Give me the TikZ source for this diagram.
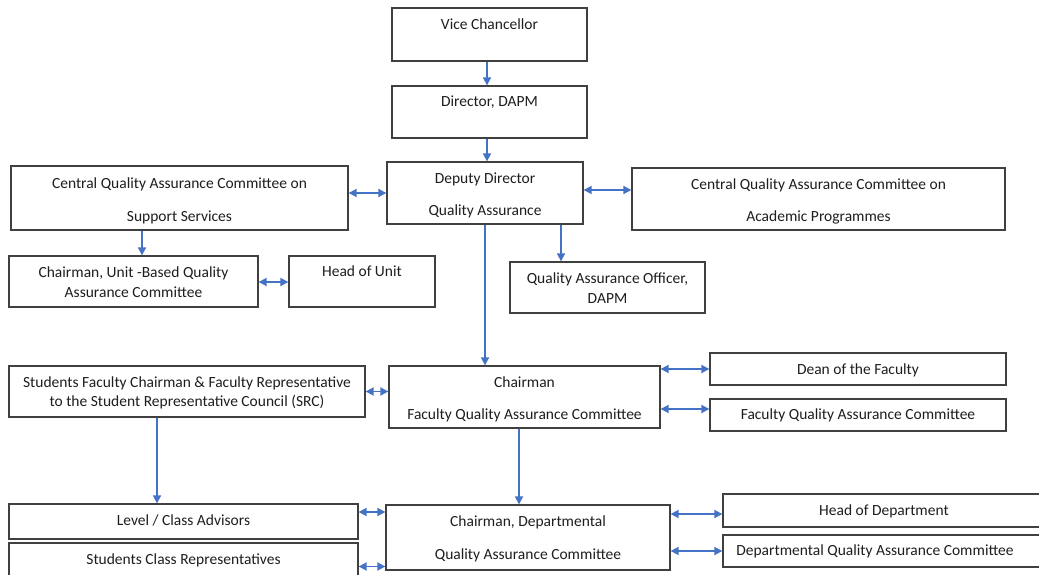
\documentclass[tikz,border=0pt]{standalone}
\usepackage{fontspec}
\setmainfont{Carlito}
\usetikzlibrary{arrows.meta,calc}
\definecolor{boxgray}{RGB}{64,64,64}
\definecolor{arrowblue}{RGB}{68,114,196}
\definecolor{txt}{RGB}{30,30,30}
\newcommand\obox[8]{%
  \node[box] (#1) at ({(#2+#4)/2},{(#3+#5)/2})
  {\parbox[c][\dimexpr#5pt-#3pt\relax][t]{\dimexpr#4pt-#2pt\relax}{\centering\fontsize{15.5pt}{#7pt}\selectfont\rule{0pt}{#6pt}#8\par}};}
\tikzset{
  box/.style={draw=boxgray, line width=1.3pt, inner sep=0pt, text=txt, fill=white},
  arr/.style={draw=arrowblue, line width=1.7pt, -{Triangle[length=8pt,width=8pt]}},
  darr/.style={draw=arrowblue, line width=1.7pt, {Triangle[length=8pt,width=8pt]}-{Triangle[length=8pt,width=8pt]}}
}
\begin{document}
\begin{tikzpicture}[x=1pt,y=-1pt]
\useasboundingbox (0,0) rectangle (1039,575);
\clip (0,0) rectangle (1039,575);
\fill[white] (0,0) rectangle (1039,575);
\obox{vc}{392}{8}{587}{61}{22}{20}{Vice Chancellor}
\obox{dir}{392}{86}{587}{138}{21}{20}{Director, DAPM}
\obox{dep}{387}{162}{583}{224}{21}{33}{Deputy Director\\Quality Assurance}
\obox{css}{11}{166}{348}{230}{22}{33}{Central Quality Assurance Committee on\\Support Services}
\obox{cap}{632}{168}{1005}{230}{21}{32}{Central Quality Assurance Committee on\\Academic Programmes}
\obox{cub}{9}{256}{258}{307}{21}{20}{Chairman, Unit -Based Quality\\Assurance Committee}
\obox{hou}{289}{256}{435}{307}{20}{20}{Head of Unit}
\obox{qao}{510}{262}{705}{313}{21}{20}{Quality Assurance Officer,\\DAPM}
\obox{sfc}{9}{366}{365}{417}{21}{19}{Students Faculty Chairman \& Faculty Representative\\to the Student Representative Council (SRC)}
\obox{cfq}{389}{366}{660}{428}{21}{32}{Chairman\\Faculty Quality Assurance Committee}
\obox{dean}{710}{353}{1006}{385}{21}{20}{Dean of the Faculty}
\obox{fqa}{710}{399}{1006}{431}{20}{20}{Faculty Quality Assurance Committee}
\obox{lca}{9}{504}{358}{539}{21}{20}{Level / Class Advisors}
\obox{scr}{9}{543}{358}{585}{21}{20}{Students Class Representatives}
\obox{cdq}{386}{505}{670}{570}{21}{33}{Chairman, Departmental\\Quality Assurance Committee}
\obox{hod}{723}{494}{1045}{527}{21}{20}{Head of Department}
\obox{dqa}{723}{535}{1045}{567}{20}{20}{\hspace*{-18pt}Departmental Quality Assurance Committee}
% vertical arrows
\draw[arr] ([xshift=-2.5pt]vc.south) -- ([xshift=-2.5pt]vc.south |- dir.north);
\draw[arr] ([xshift=-2.5pt]dir.south) -- ([xshift=-2.5pt]dir.south |- dep.north);
\draw[arr] (dep.south) -- (dep.south |- cfq.north);
\draw[arr] ([xshift=-22.65pt]dep.south east) -- ([xshift=-22.65pt]dep.south east |- qao.north);
\draw[arr] ([xshift=-37.5pt]css.south) -- ([xshift=-37.5pt]css.south |- cub.north);
\draw[arr] ([xshift=-30pt]sfc.south) -- ([xshift=-30pt]sfc.south |- lca.north);
\draw[arr] ([xshift=-5.5pt]cfq.south) -- ([xshift=-5.5pt]cfq.south |- cdq.north);
% horizontal double arrows
\draw[darr] (dep.west -| css.east) -- (dep.west);
\draw[darr] ([yshift=3pt]dep.east) -- ([yshift=3pt]dep.east -| cap.west);
\draw[darr] ([yshift=-0.5pt]cub.east) -- ([yshift=-0.5pt]cub.east -| hou.west);
\draw[darr] (sfc.east) -- (sfc.east -| cfq.west);
\draw[darr] (dean.west -| cfq.east) -- (dean.west);
\draw[darr] ([yshift=6pt]fqa.west -| cfq.east) -- ([yshift=6pt]fqa.west);
\draw[darr] ([yshift=9.5pt]lca.east) -- ([yshift=9.5pt]lca.east -| cdq.west);
\draw[darr] ([yshift=-2.5pt]scr.east) -- ([yshift=-2.5pt]scr.east -| cdq.west);
\draw[darr] ([yshift=-3.5pt]hod.west -| cdq.east) -- ([yshift=-3.5pt]hod.west);
\draw[darr] (dqa.west -| cdq.east) -- (dqa.west);
\end{tikzpicture}
\end{document}
